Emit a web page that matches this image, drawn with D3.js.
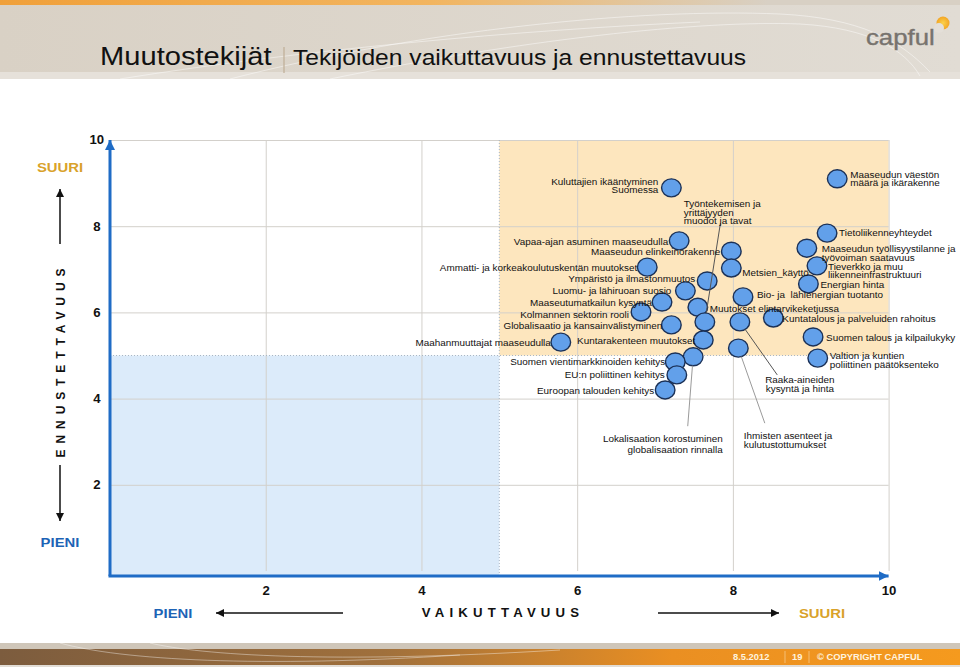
<!DOCTYPE html>
<html>
<head>
<meta charset="utf-8">
<script src="https://cdn.jsdelivr.net/npm/d3@7"></script>
<style>
    body { margin: 0; background: #fff; }
    svg { display: block; font-family: "Liberation Sans", Arial, sans-serif; }
    text { white-space: pre; }
</style>
</head>
<body>
<svg id="chart" width="960" height="667"></svg>
<script>
// factor names, impact (x) and predictability (y)
const factors = [
    "Kuluttajien ikääntyminen\nSuomessa",
    "Vapaa-ajan asuminen maaseudulla",
    "Maaseudun elinkeinorakenne",
    "Ammatti- ja korkeakoulutuskentän muutokset",
    "Metsien_käyttö",
    "Ympäristö ja ilmastonmuutos",
    "Luomu- ja lähiruoan suosio",
    "Maaseutumatkailun kysyntä",
    "Muutokset elintarvikeketjussa",
    "Kolmannen sektorin rooli",
    "Työntekemisen ja\nyrittäjyyden\nmuodot ja tavat",
    "Globalisaatio ja kansainvälistyminen",
    "Maahanmuuttajat maaseudulla",
    "Kuntarakenteen muutokset",
    "Lokalisaation korostuminen\nglobalisaation rinnalla",
    "Suomen vientimarkkinoiden kehitys",
    "EU:n poliittinen kehitys",
    "Euroopan talouden kehitys",
    "Maaseudun väestön\nmäärä ja ikärakenne",
    "Tietoliikenneyhteydet",
    "Maaseudun työllisyystilanne ja\ntyövoiman saatavuus",
    "Tieverkko ja muu\nliikenneinfrastruktuuri",
    "Energian hinta",
    "Bio- ja  lähienergian tuotanto",
    "Kuntatalous ja palveluiden rahoitus",
    "Raaka-aineiden\nkysyntä ja hinta",
    "Suomen talous ja kilpailukyky",
    "Ihmisten asenteet ja\nkulutustottumukset",
    "Valtion ja kuntien\npoliittinen päätöksenteko"
];
const impact = [
    7.21, 7.31, 7.98, 6.90, 7.98, 7.67, 7.39, 7.09, 7.55, 6.82,
    7.64, 7.21, 5.79, 7.62, 7.49, 7.26, 7.28, 7.13, 9.34, 9.21,
    8.95, 9.08, 8.97, 8.13, 8.52, 8.09, 9.03, 8.07, 9.09
];
const predictability = [
    8.89, 7.66, 7.42, 7.05, 7.03, 6.73, 6.50, 6.24, 6.12, 6.01,
    5.78, 5.71, 5.31, 5.36, 4.97, 4.85, 4.55, 4.20, 9.10, 7.84,
    7.49, 7.08, 6.66, 6.36, 5.87, 5.78, 5.43, 5.17, 4.94
];
const xTicks = [2, 4, 6, 8, 10];
const yTicks = [2, 4, 6, 8, 10];

// where each label sits: L = left of the dot, R = right, C = callout with a leader line
const labelSide = [
    "L", "L", "L", "L", "R", "L", "L", "L", "R", "L",
    "C", "L", "L", "L", "C", "L", "L", "L", "R", "R",
    "R", "R", "R", "R", "R", "C", "R", "C", "R"
];
// [gap, dy] nudges in px
const labelNudge = [
    [13, -2], [11, 1], [11, 1], [10, 1], [11, 5], [12, -2], [14, 0], [10, 1], [12, 2], [12, 3],
    [0, 0], [9, 1], [10, 1], [8, 1], [0, 0], [10, 0], [12, 0], [11, 1], [13, 0], [12, 0],
    [15, 5], [11, 5], [12, 1], [14, -2], [9, 1], [0, 0], [13, 1], [0, 0], [12, 2]
];
// callout label positions (data units): label anchor + leader start
const callouts = [
    { i: 10, anchor: "start", lx: 7.37, ly: 8.52, ax: 7.84, ay: 8.07, lh: 8.6, tone: "#555" },
    { i: 14, anchor: "end", lx: 7.87, ly: 3.06, ax: 7.42, ay: 3.36, lh: 11, tone: "#9a9a9a" },
    { i: 25, anchor: "middle", lx: 8.86, ly: 4.43, ax: 8.57, ay: 4.55, lh: 8.8, tone: "#555" },
    { i: 27, anchor: "start", lx: 8.14, ly: 3.13, ax: 8.41, ay: 3.43, lh: 8.8, tone: "#9a9a9a" }
];

const SX = 1.1; // slide is a bit wider than tall, text looks stretched
const svg = d3.select("#chart");
const defs = svg.append("defs");

const x = d3.scaleLinear().domain([0, 10]).range([110, 888.6]);
const y = d3.scaleLinear().domain([0, 10]).range([571, 140]);
const axisY = y(0) + 5;

function stretched(g, px, py, str, anchor) {
    return g.append("text")
        .attr("transform", `translate(${px},${py}) scale(${SX},1)`)
        .attr("text-anchor", anchor)
        .attr("dy", "0.35em")
        .text(str);
}

// ---------- header ----------
const hg = defs.append("linearGradient").attr("id", "head");
hg.append("stop").attr("offset", "0%").attr("stop-color", "#d9d1c5");
hg.append("stop").attr("offset", "100%").attr("stop-color", "#e1dcd4");
const sg = defs.append("linearGradient").attr("id", "stripe");
sg.append("stop").attr("offset", "0%").attr("stop-color", "#f0a03a");
sg.append("stop").attr("offset", "45%").attr("stop-color", "#f2b560");
sg.append("stop").attr("offset", "80%").attr("stop-color", "#d8d0c4");
sg.append("stop").attr("offset", "100%").attr("stop-color", "#d8d0c4");

svg.append("rect").attr("width", 960).attr("height", 79).attr("fill", "url(#head)");
svg.append("rect").attr("width", 960).attr("height", 5).attr("fill", "url(#stripe)");
svg.append("rect").attr("y", 72).attr("width", 960).attr("height", 7).attr("fill", "#e6e1da");

const swoosh = svg.append("g").attr("fill", "none").attr("stroke", "#fff").attr("stroke-opacity", 0.45);
swoosh.append("path").attr("d", "M230,79 C420,30 640,8 780,14 C860,18 900,40 930,72");
swoosh.append("path").attr("d", "M330,79 C520,40 700,20 800,24 C870,28 905,50 920,76");
swoosh.append("path").attr("d", "M120,79 C300,50 520,30 700,22");

const title = svg.append("g").attr("fill", "#111");
title.append("text")
    .attr("transform", `translate(100,65) scale(1.12,1)`)
    .attr("font-size", 26)
    .text("Muutostekijät");
svg.append("line").attr("x1", 284).attr("x2", 284).attr("y1", 47).attr("y2", 73)
    .attr("stroke", "#bfae96").attr("stroke-width", 1.2);
title.append("text")
    .attr("transform", `translate(293,65) scale(1.12,1)`)
    .attr("font-size", 22)
    .text("Tekijöiden vaikuttavuus ja ennustettavuus");

// logo
svg.append("text")
    .attr("transform", "translate(866,45) scale(1.12,1)")
    .attr("font-size", 23).attr("fill", "#77736e")
    .attr("stroke", "#77736e").attr("stroke-width", 0.4)
    .text("capful");
const lg = defs.append("radialGradient").attr("id", "dot");
lg.append("stop").attr("offset", "0%").attr("stop-color", "#fbd24a");
lg.append("stop").attr("offset", "100%").attr("stop-color", "#f3a524");
svg.append("circle").attr("cx", 943).attr("cy", 23).attr("r", 6.5).attr("fill", "url(#dot)");
svg.append("circle").attr("cx", 939).attr("cy", 28).attr("r", 5).attr("fill", "#e4dfd8");

// ---------- plot background ----------
svg.append("rect")
    .attr("x", x(5)).attr("y", y(10))
    .attr("width", x(10) - x(5)).attr("height", y(5) - y(10))
    .attr("fill", "#fde6be");
svg.append("rect")
    .attr("x", x(0)).attr("y", y(5))
    .attr("width", x(5) - x(0)).attr("height", axisY - y(5))
    .attr("fill", "#dcebfa");

// grid via axes
svg.append("g")
    .attr("transform", `translate(0,${y(0)})`)
    .call(d3.axisBottom(x).tickValues(xTicks).tickSize(-(y(0) - y(10))).tickFormat(""))
    .call(g => g.select(".domain").remove())
    .call(g => g.selectAll("line").attr("stroke", "#d3d0cb"));
svg.append("g")
    .attr("transform", `translate(${x(0)},0)`)
    .call(d3.axisLeft(y).tickValues(yTicks).tickSize(-(x(10) - x(0))).tickFormat(""))
    .call(g => g.select(".domain").remove())
    .call(g => g.selectAll("line").attr("stroke", "#d3d0cb"));

// quadrant borders, dotted
const dots = svg.append("g").attr("stroke", "#a9b6c4").attr("stroke-dasharray", "1,2");
dots.append("line").attr("x1", x(5)).attr("x2", x(5)).attr("y1", y(10)).attr("y2", axisY);
dots.append("line").attr("x1", x(0)).attr("x2", x(10)).attr("y1", y(5)).attr("y2", y(5));

// ---------- blue axes ----------
const mk = defs.append("marker").attr("id", "blueHead")
    .attr("viewBox", "0 0 10 10").attr("refX", 10).attr("refY", 5)
    .attr("markerWidth", 10).attr("markerHeight", 11)
    .attr("markerUnits", "userSpaceOnUse").attr("orient", "auto");
mk.append("path").attr("d", "M0,0 L10,5 L0,10 Z").attr("fill", "#1f6cc6");

const blue = svg.append("g").attr("stroke", "#1f6cc6").attr("stroke-width", 3).attr("fill", "none");
blue.append("line").attr("x1", x(0)).attr("y1", axisY).attr("x2", x(0)).attr("y2", y(10))
    .attr("marker-end", "url(#blueHead)");
blue.append("line").attr("x1", x(0) - 1.5).attr("y1", axisY).attr("x2", x(10)).attr("y2", axisY)
    .attr("marker-end", "url(#blueHead)");

// tick labels
svg.append("g")
    .attr("transform", `translate(0,${y(0)})`)
    .call(d3.axisBottom(x).tickValues(xTicks).tickSize(0).tickPadding(15))
    .call(g => g.select(".domain").remove())
    .call(g => g.selectAll("text")
        .attr("transform", `scale(${SX},1)`)
        .attr("x", 0)
        .attr("font-size", 12).attr("font-weight", "bold").attr("fill", "#111")
        .attr("font-family", "Liberation Sans, Arial, sans-serif"));
svg.append("g")
    .attr("transform", `translate(${x(0)},0)`)
    .call(d3.axisLeft(y).tickValues(yTicks).tickSize(0).tickPadding(12))
    .call(g => g.select(".domain").remove())
    .call(g => g.selectAll("text")
        .attr("transform", `scale(${SX},1)`)
        .attr("text-anchor", "middle")
        .attr("font-size", 12).attr("font-weight", "bold").attr("fill", "#111")
        .attr("font-family", "Liberation Sans, Arial, sans-serif"));

// ---------- axis titles ----------
const ak = defs.append("marker").attr("id", "blackHead")
    .attr("viewBox", "0 0 10 10").attr("refX", 10).attr("refY", 5)
    .attr("markerWidth", 9).attr("markerHeight", 8)
    .attr("markerUnits", "userSpaceOnUse").attr("orient", "auto");
ak.append("path").attr("d", "M0,0 L10,5 L0,10 Z").attr("fill", "#111");

const arrows = svg.append("g").attr("stroke", "#111").attr("stroke-width", 1.5);
arrows.append("line").attr("x1", 60).attr("y1", 244).attr("x2", 60).attr("y2", 189).attr("marker-end", "url(#blackHead)");
arrows.append("line").attr("x1", 60).attr("y1", 465).attr("x2", 60).attr("y2", 521).attr("marker-end", "url(#blackHead)");
arrows.append("line").attr("x1", 343).attr("y1", 613).attr("x2", 216).attr("y2", 613).attr("marker-end", "url(#blackHead)");
arrows.append("line").attr("x1", 658).attr("y1", 613).attr("x2", 779).attr("y2", 613).attr("marker-end", "url(#blackHead)");

const gold = "#d9a22a", blueTxt = "#1d63b6";
const titles = svg.append("g").attr("font-weight", "bold");
stretched(titles, 60, 167, "SUURI", "middle").attr("font-size", 13.5).attr("fill", gold);
stretched(titles, 60, 542, "PIENI", "middle").attr("font-size", 13.5).attr("fill", blueTxt);
stretched(titles, 173, 613, "PIENI", "middle").attr("font-size", 13.5).attr("fill", blueTxt);
stretched(titles, 822, 613, "SUURI", "middle").attr("font-size", 13.5).attr("fill", gold);
stretched(titles, 503, 613, "VAIKUTTAVUUS", "middle")
    .attr("font-size", 12).attr("letter-spacing", 4.7).attr("fill", "#111");
titles.append("text")
    .attr("transform", `translate(60,360) scale(${SX},1) rotate(-90)`)
    .attr("text-anchor", "middle").attr("dy", "0.35em")
    .attr("font-size", 12).attr("letter-spacing", 5.9).attr("fill", "#111")
    .text("ENNUSTETTAVUUS");

// ---------- points ----------
const points = factors.map((name, i) => ({
    name, i,
    x: impact[i], y: predictability[i],
    side: labelSide[i], gap: labelNudge[i][0], dy: labelNudge[i][1]
}));

svg.append("g").selectAll("ellipse")
    .data(points)
    .join("ellipse")
    .attr("cx", d => x(d.x))
    .attr("cy", d => y(d.y))
    .attr("rx", 9.8).attr("ry", 9)
    .attr("fill", "#62a0ea")
    .attr("stroke", "#1b3157")
    .attr("stroke-width", 1.4);

// leader lines, end at the dot edge
const leaders = svg.append("g").attr("stroke-width", 1);
callouts.forEach(c => {
    const p = points[c.i];
    const x1 = x(c.ax), y1 = y(c.ay), x2 = x(p.x), y2 = y(p.y);
    const len = Math.hypot(x2 - x1, y2 - y1);
    const k = (len - 9) / len;
    leaders.append("line")
        .attr("x1", x1).attr("y1", y1)
        .attr("x2", x1 + (x2 - x1) * k).attr("y2", y1 + (y2 - y1) * k)
        .attr("stroke", c.tone);
});

// labels
const labels = svg.append("g").attr("font-size", 9).attr("fill", "#111");
points.forEach(p => {
    const lines = p.name.split("\n");
    if (p.side === "C") return;
    const lh = 8.6;
    const px = p.side === "L" ? x(p.x) - p.gap : x(p.x) + p.gap;
    const anchor = p.side === "L" ? "end" : "start";
    lines.forEach((ln, j) => {
        const py = y(p.y) + p.dy + (j - (lines.length - 1) / 2) * lh;
        stretched(labels, px, py, ln, anchor);
    });
});
callouts.forEach(c => {
    const lines = points[c.i].name.split("\n");
    lines.forEach((ln, j) => {
        stretched(labels, x(c.lx), y(c.ly) + j * c.lh, ln, c.anchor);
    });
});

// ---------- footer ----------
const fg = defs.append("linearGradient").attr("id", "foot");
fg.append("stop").attr("offset", "0%").attr("stop-color", "#7c5c3e");
fg.append("stop").attr("offset", "40%").attr("stop-color", "#a0703c");
fg.append("stop").attr("offset", "70%").attr("stop-color", "#ea8f22");
fg.append("stop").attr("offset", "100%").attr("stop-color", "#f59a1e");
svg.append("rect").attr("y", 643).attr("width", 960).attr("height", 24).attr("fill", "#cfc6b9");
svg.append("rect").attr("y", 649).attr("width", 960).attr("height", 16).attr("fill", "url(#foot)");
svg.append("rect").attr("y", 665).attr("width", 960).attr("height", 2).attr("fill", "#e2ddd6");
const fsw = svg.append("g").attr("fill", "none").attr("stroke", "#fff").attr("stroke-opacity", 0.4);
fsw.append("path").attr("d", "M60,643 C120,660 260,668 460,655");
fsw.append("path").attr("d", "M150,643 C200,655 330,664 560,650");

const foot = svg.append("g").attr("font-size", 8.5).attr("font-weight", "bold").attr("fill", "#fff3df");
stretched(foot, 733, 657, "8.5.2012", "start");
stretched(foot, 792, 657, "19", "start");
stretched(foot, 817, 657, "© COPYRIGHT CAPFUL", "start");
const seps = svg.append("g").attr("stroke", "#f6c98a").attr("stroke-width", 0.8);
seps.append("line").attr("x1", 785).attr("x2", 785).attr("y1", 651).attr("y2", 663);
seps.append("line").attr("x1", 809).attr("x2", 809).attr("y1", 651).attr("y2", 663);
</script>
</body>
</html>
